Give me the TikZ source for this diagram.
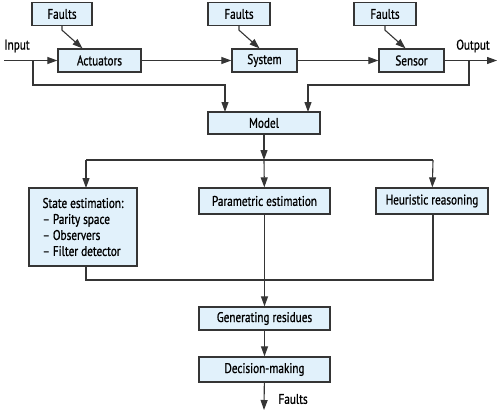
\documentclass[tikz,border=0pt]{standalone}
\usepackage{fontspec}
\setmainfont{PT Sans}[FakeStretch=0.8,FakeBold=0.9]
\usetikzlibrary{arrows.meta,calc}
\definecolor{boxfill}{HTML}{E1F1FB}
\definecolor{boxline}{HTML}{353535}

\begin{document}
\begin{tikzpicture}[x=1pt,y=-1pt,font=\fontsize{14}{16}\selectfont,
  >={Triangle[length=10pt,width=7pt]}]
\tikzstyle{box}=[draw=boxline,fill=boxfill,line width=1.3pt,inner sep=0pt,minimum height=23pt]
\tikzstyle{wire}=[draw=boxline,line width=1.1pt]
\useasboundingbox (0,0) rectangle (500,412);
% top row
\node[box,minimum width=60pt] (fa) at (62,14) {Faults};
\node[box,minimum width=62pt] (fs) at (239,14) {Faults};
\node[box,minimum width=62pt] (fn) at (385,14) {Faults};
\node[box,minimum width=83pt] (act) at (99.5,60.5) {Actuators};
\node[box,minimum width=65pt] (sys) at (264.5,60.5) {System};
\node[box,minimum width=65pt] (sen) at (411.5,60.5) {Sensor};
\node (in) at (17,46) {Input};
\node (out) at (473,46) {Output};
\coordinate (inp) at (4,60.5);
\coordinate (outp) at (497,60.5);
\node[box,minimum width=112pt,minimum height=22pt] (model) at (264,123) {Model};
% methods
\node[box,minimum width=108pt,minimum height=78pt,align=left] (state) at (83,227)
  {State estimation:\\ – Parity space\\ – Observers\\ – Filter detector};
\node[box,minimum width=131pt,minimum height=26pt] (param) at (264.5,201) {Parametric estimation};
\node[box,minimum width=112pt,minimum height=26pt] (heur) at (432,201) {Heuristic reasoning};
\node[box,minimum width=131pt] (gen) at (264.5,318.5) {Generating residues};
\node[box,minimum width=131pt,minimum height=25pt] (dec) at (264.5,369.5) {Decision-making};
\coordinate (fout) at (264,410);
\node[anchor=west] (flab) at (275,399) {Faults};

\draw[wire,->] (inp) -- (act);
\draw[wire,->] (act) -- (sys);
\draw[wire,->] (sys) -- (sen);
\draw[wire,->] (sen) -- (outp);
\draw[wire,->] (fa.south) -- ++(0,4) -- ($(act.north)+(-17,0)$);
\draw[wire,->] (fs.south) -- ++(0,4) -- ($(sys.north)+(-5,0)$);
\draw[wire,->] (fn.south) -- ++(0,4) -- ($(sen.north)+(-6,0)$);
\draw[wire,->] (33,60.5) -- (33,85) -- (225,85) -- (225,112);
\draw[wire,->] (469,60.5) -- (469,85) -- (308,85) -- (308,112);
\draw[wire,->] (model) -- (264,160);
\draw[wire] (86,160) -- (433,160);
\draw[wire,->] (86,160) -- (86,188);
\draw[wire,->] (264,160) -- (param);
\draw[wire,->] (433,160) -- (heur);
\draw[wire] (86,266) -- (86,280) -- (433,280) -- (433,214);
\draw[wire,->] (param) -- (gen);
\draw[wire,->] (gen) -- (dec);
\draw[wire,->] (dec) -- (fout);
\end{tikzpicture}
\end{document}
